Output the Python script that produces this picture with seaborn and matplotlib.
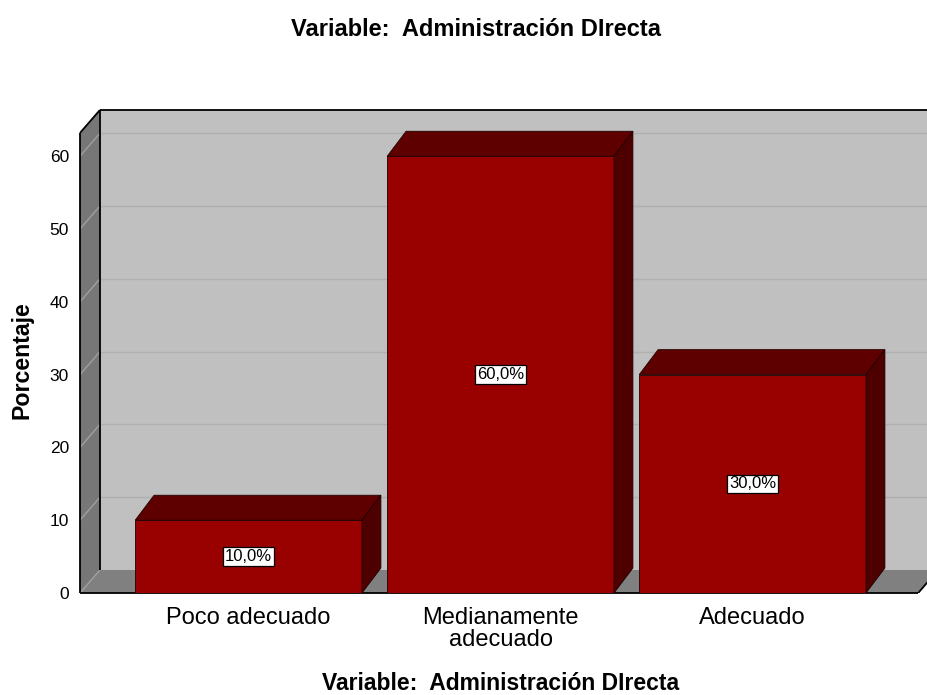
import matplotlib.pyplot as plt
from matplotlib.patches import Polygon, Rectangle
import seaborn as sns
import pandas as pd

# datos del grafico
categorias = ["Poco adecuado", "Medianamente\nadecuado", "Adecuado"]
porcentajes = [10.0, 60.0, 30.0]
etiquetas = ["10,0%", "60,0%", "30,0%"]
titulo = "Variable:  Administración DIrecta"
yticks = [0, 10, 20, 30, 40, 50, 60]

sns.set_style("white")
plt.rcParams['font.family'] = ['Liberation Sans', 'DejaVu Sans']
plt.rcParams['text.color'] = 'black'
plt.rcParams['xtick.color'] = 'black'
plt.rcParams['ytick.color'] = 'black'

W, H = 928, 695
fig = plt.figure(figsize=(W / 100, H / 100), dpi=100)
ax = fig.add_axes([80 / W, (H - 593) / H, (W - 80) / W, (593 - 110) / H])

df = pd.DataFrame({"categoria": categorias, "porcentaje": porcentajes})
sns.barplot(data=df, x="categoria", y="porcentaje", color="#990000", saturation=1,
            width=0.9, edgecolor="#200000", linewidth=0.6, ax=ax, zorder=3)
bars = list(ax.patches)

# limites: caja 3D estilo SPSS
L, R = -0.669, 2.696
ymax = 66.35
ytop = 63.2          # borde superior del plano frontal
dx, dy = 0.079, 3.16  # profundidad de las paredes
rf = 2.657           # borde frontal derecho del suelo
ax.set_xlim(L, R)
ax.set_ylim(0, ymax)

# pared del fondo
ax.add_patch(Rectangle((L + dx, dy), R - L, ymax - dy, fc="#c0c0c0", ec="none", zorder=0))
for k in yticks[1:]:
    ax.plot([L + dx, R], [k + dy, k + dy], color="#b0b0b0", lw=1, zorder=0.5)
# pared izquierda
ax.add_patch(Polygon([(L, 0), (L + dx, dy), (L + dx, ymax), (L, ytop)],
                     closed=True, fc="#777777", ec="none", zorder=1))
for k in yticks[1:]:
    ax.plot([L, L + dx], [k, k + dy], color="#a0a0a0", lw=1, zorder=1.2)
# suelo
ax.add_patch(Polygon([(L, 0), (rf, 0), (rf + dx, dy), (L + dx, dy)],
                     closed=True, fc="#808080", ec="none", zorder=1))
ax.plot([L, L + dx], [0, dy], color="#a0a0a0", lw=1, zorder=1.2)

# bordes negros
kw = dict(color="black", lw=1.3, zorder=2, solid_capstyle="butt", clip_on=False)
ax.plot([L, L], [0, ytop], **kw)
ax.plot([L, L + dx], [ytop, ymax], **kw)
ax.plot([L + dx, L + dx], [dy, ymax], **kw)
ax.plot([L + dx, R], [ymax, ymax], **kw)
ax.plot([L, rf], [0, 0], **kw)
ax.plot([rf, rf + dx], [0, dy], color="black", lw=1.3, zorder=2)

# caras superior y lateral de las barras
bdx, bdy = 0.075, 3.43
for p, lab in zip(bars, etiquetas):
    x0 = p.get_x()
    x1 = x0 + p.get_width()
    h = p.get_height()
    ax.add_patch(Polygon([(x0, h), (x1, h), (x1 + bdx, h + bdy), (x0 + bdx, h + bdy)],
                         closed=True, fc="#5e0000", ec="#200000", lw=0.6, zorder=3))
    ax.add_patch(Polygon([(x1, 0), (x1 + bdx, bdy), (x1 + bdx, h + bdy), (x1, h)],
                         closed=True, fc="#4e0000", ec="#200000", lw=0.6, zorder=3))
    ax.text(x0 + p.get_width() / 2, h / 2, lab, ha="center", va="center", fontsize=12,
            zorder=5, bbox=dict(boxstyle="square,pad=0.1", fc="white", ec="black", lw=0.9))

for s in ax.spines.values():
    s.set_visible(False)
ax.set_yticks(yticks)
ax.set_yticklabels([str(t) for t in yticks], fontsize=12.5)
ax.tick_params(axis="y", length=0, pad=8)
ax.tick_params(axis="x", length=0, pad=10, labelsize=17)
for t in ax.get_xticklabels():
    t.set_linespacing(1.0)
ax.set_xlabel("")
ax.set_ylabel("")

fig.text(476 / W, 1 - 30 / H, titulo, ha="center", va="center", fontsize=17, fontweight="bold")
fig.text(501 / W, 1 - 683 / H, titulo, ha="center", va="center", fontsize=16.5, fontweight="bold")
fig.text(22 / W, 1 - 360 / H, "Porcentaje", ha="center", va="center", rotation=90,
         fontsize=16.7, fontweight="bold")

fig.savefig("out.png", dpi=100)
